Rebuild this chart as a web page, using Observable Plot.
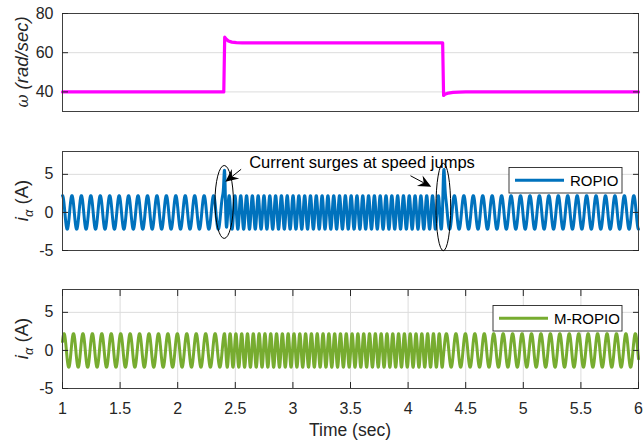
<!DOCTYPE html>
<html><head><meta charset="utf-8">
<script src="https://cdn.jsdelivr.net/npm/d3@7"></script>
<script src="https://cdn.jsdelivr.net/npm/@observablehq/plot@0.6"></script>
<style>
body{margin:0;background:#fff;}
#chart{width:643px;height:442px;font-family:"Liberation Sans",Arial,sans-serif;}
#chart svg{display:block}
</style></head><body><div id="chart"></div>
<script>
// ---------------- data ----------------
const timeDomain = [1, 6];
const xTicks = [1, 1.5, 2, 2.5, 3, 3.5, 4, 4.5, 5, 5.5, 6];
const omegaDomain = [30, 80];
const omegaTicks = [40, 60, 80];
const currentDomain = [-5, 8];
const currentTicks = [-5, 0, 5];
const xLabel = "Time (sec)";

// speed profile (rad/sec) keyframes
const speedTimes  = [1, 2.400, 2.408, 2.42, 2.44, 2.47, 2.51, 2.56, 4.300, 4.308, 4.32, 4.35, 4.39, 4.44, 4.50, 6];
const speedValues = [40, 40, 67.9, 67.0, 66.0, 65.4, 65.15, 65.0, 65.0, 38.2, 38.8, 39.4, 39.75, 39.92, 40, 40];

// phase current parameters
const currentAmplitude = 2.2;      // A
const hzPerRadSec = 0.305;         // electrical Hz per mechanical rad/s (~12.2 Hz at 40 rad/s)
const surgeTimes = [2.408, 4.31];
const surgePeaksROPIO = [5.25, 5.6];
const seriesNames = ["ROPIO", "M-ROPIO"];
const seriesColors = ["#0072BD", "#77AC30"];

// annotation
const annotationText = "Current surges at speed jumps";
const annotationPos = {t: 3.60, y: 6.55};
const ellipses = [{t: 2.408, y: 1.31, rt: 0.080, ry: 4.79}, {t: 4.31, y: 0.65, rt: 0.064, ry: 5.74}];
const arrows = [
  {t1: 2.555, y1: 5.6, t2: 2.418, y2: 3.95},
  {t1: 4.025, y1: 4.75, t2: 4.205, y2: 3.3}
];

// ---------------- derived series ----------------
const speed = speedTimes.map((t, i) => ({t, w: speedValues[i]}));
const speedAt = d3.scaleLinear(speedTimes, speedValues);
const dt = 0.0004;
const N = Math.round((timeDomain[1] - timeDomain[0]) / dt);
function waveform(phase0, peaks) {
  const out = [];
  let ph = phase0;
  for (let i = 0; i <= N; i++) {
    const t = timeDomain[0] + i * dt;
    out.push({t, v: currentAmplitude * Math.sin(ph)});
    ph += 2 * Math.PI * hzPerRadSec * speedAt(t) * dt;
  }
  if (peaks) {
    surgeTimes.forEach((ts, k) => {
      const idx = Math.round((ts - timeDomain[0]) / dt);
      const base = out[idx].v;
      const add = peaks[k] - base;
      for (let i = Math.max(0, idx - 120); i <= Math.min(N, idx + 120); i++) {
        const u = (out[i].t - ts) / 0.009;
        out[i].v += add * Math.exp(-u * u);
      }
    });
  }
  return out;
}
const ropio = waveform(Math.PI / 2, surgePeaksROPIO);
const mropio = waveform(0.55, null);

// ---------------- plotting ----------------
const FONT = "'Liberation Sans', Arial, sans-serif";
const INK = "#262626";
const GRID = "#dcdcdc";
const style = {fontFamily: FONT, fontSize: "16px", color: INK, background: "white", overflow: "visible"};
const common = {width: 643, marginLeft: 62, marginRight: 5, style};
const fmt = d => String(d);

function yAxes(ticks) {
  return [
    Plot.axisY(ticks, {anchor: "left", tickSize: -6, tickPadding: 15, tickFormat: fmt, label: null, fontSize: 16}),
    Plot.axisY(ticks, {anchor: "right", tickSize: -6, tickFormat: () => "", label: null})
  ];
}

const topPlot = Plot.plot({
  ...common, height: 130, marginTop: 13, marginBottom: 19,
  x: {domain: timeDomain, axis: null},
  y: {domain: omegaDomain, axis: null},
  marks: [
    Plot.gridY(omegaTicks, {stroke: GRID, strokeOpacity: 1}),
    Plot.line(speed, {x: "t", y: "w", stroke: "#FF00FF", strokeWidth: 3.2}),
    Plot.frame({stroke: "#404040"}),
    ...yAxes(omegaTicks)
  ]
});

function currentPlot(data, idx, opts) {
  return Plot.plot({
    ...common, height: opts.height, marginTop: opts.marginTop, marginBottom: opts.marginBottom,
    x: {domain: timeDomain, axis: null},
    y: {domain: currentDomain, axis: null},
    marks: [
      Plot.gridY(currentTicks, {stroke: GRID, strokeOpacity: 1}),
      ...(opts.xAxis ? [Plot.gridX(xTicks, {stroke: GRID, strokeOpacity: 1})] : []),
      Plot.line(data, {x: "t", y: "v", stroke: seriesColors[idx], strokeWidth: 3}),
      Plot.frame({stroke: "#404040"}),
      ...yAxes(currentTicks),
      ...(opts.xAxis ? [
        Plot.axisX(xTicks, {anchor: "bottom", tickSize: -6, tickPadding: 20, tickFormat: fmt, label: null, fontSize: 16}),
        Plot.axisX(xTicks, {anchor: "top", tickSize: -6, tickFormat: () => "", label: null})
      ] : []),
      ...(opts.annotate ? [
        Plot.text([annotationText], {x: () => annotationPos.t, y: () => annotationPos.y, text: d => d, fontSize: 16.5, fill: "#000"})
      ] : [])
    ]
  });
}

const midPlot = currentPlot(ropio, 0, {height: 140, marginTop: 21, marginBottom: 20, annotate: true});
const botPlot = currentPlot(mropio, 1, {height: 172, marginTop: 19, marginBottom: 54, xAxis: true});

const chart = document.getElementById("chart");
chart.append(topPlot, midPlot, botPlot);

function scalesOf(p) {
  const sx = p.scale("x"), sy = p.scale("y");
  return [d3.scaleLinear(sx.domain, sx.range), d3.scaleLinear(sy.domain, sy.range)];
}

// y labels (rotated) with mixed styling
function addYLabel(p, build) {
  const [x, y] = scalesOf(p);
  const cy = (y.range()[0] + y.range()[1]) / 2;
  const t = d3.select(p).append("text")
    .attr("transform", `translate(${x.range()[0] - 40},${cy}) rotate(-90)`)
    .attr("text-anchor", "middle").attr("dy", "0.32em")
    .attr("font-size", 18.5).attr("fill", INK).attr("font-family", FONT);
  build(t);
}
addYLabel(topPlot, t => {
  t.append("tspan").attr("font-style", "italic").attr("font-size", 16).attr("font-family", "'DejaVu Serif', serif").text("ω");
  t.append("tspan").attr("font-style", "italic").text(" (rad/sec)");
});
[midPlot, botPlot].forEach(p => addYLabel(p, t => {
  t.append("tspan").attr("font-style", "italic").text("i");
  t.append("tspan").attr("font-style", "italic").attr("font-size", 13).attr("dy", "0.4em").text("α");
  t.append("tspan").attr("dy", "-0.3em").text(" (A)");
}));

// x label
{
  const [x, y] = scalesOf(botPlot);
  d3.select(botPlot).append("text")
    .attr("x", (x.range()[0] + x.range()[1]) / 2).attr("y", y.range()[0] + 42)
    .attr("text-anchor", "middle").attr("dy", "0.32em")
    .attr("font-size", 17.5).attr("fill", INK).attr("font-family", FONT).text(xLabel);
}

// ellipses + arrows on the middle panel
{
  const [x, y] = scalesOf(midPlot);
  const g = d3.select(midPlot).append("g");
  ellipses.forEach(e => {
    g.append("ellipse")
      .attr("cx", x(e.t)).attr("cy", y(e.y))
      .attr("rx", Math.abs(x(e.t + e.rt) - x(e.t)))
      .attr("ry", Math.abs(y(e.y + e.ry) - y(e.y)))
      .attr("fill", "none").attr("stroke", "#000").attr("stroke-width", 1);
  });
  arrows.forEach(a => {
    const x1 = x(a.t1), y1 = y(a.y1), x2 = x(a.t2), y2 = y(a.y2);
    const ang = Math.atan2(y2 - y1, x2 - x1);
    const L = 13, W = 6, notch = 8.5;
    const ux = Math.cos(ang), uy = Math.sin(ang), px = -uy, py = ux;
    const bx = x2 - ux * L, by = y2 - uy * L;
    const nx = x2 - ux * notch, ny = y2 - uy * notch;
    g.append("line").attr("x1", x1).attr("y1", y1).attr("x2", nx).attr("y2", ny)
      .attr("stroke", "#000").attr("stroke-width", 1);
    g.append("path")
      .attr("d", `M${x2},${y2}L${bx + px * W},${by + py * W}L${nx},${ny}L${bx - px * W},${by - py * W}Z`)
      .attr("fill", "#000");
  });
}

// legends
function legend(p, idx, boxW) {
  const [x, y] = scalesOf(p);
  const right = x.range()[1] - 16, top = y.range()[1] + 16.5;
  const h = 25.5;
  const g = d3.select(p).append("g");
  g.append("rect").attr("x", right - boxW).attr("y", top).attr("width", boxW).attr("height", h)
    .attr("fill", "white").attr("stroke", INK).attr("stroke-width", 0.9);
  g.append("line").attr("x1", right - boxW + 6).attr("x2", right - boxW + 55)
    .attr("y1", top + h / 2).attr("y2", top + h / 2)
    .attr("stroke", seriesColors[idx]).attr("stroke-width", 3);
  g.append("text").attr("x", right - boxW + 61).attr("y", top + h / 2).attr("dy", "0.35em")
    .attr("text-anchor", "start").attr("font-family", FONT)
    .attr("font-size", 15).attr("fill", "#000").text(seriesNames[idx]);
}
legend(midPlot, 0, 113);
legend(botPlot, 1, 129);
</script></body></html>
